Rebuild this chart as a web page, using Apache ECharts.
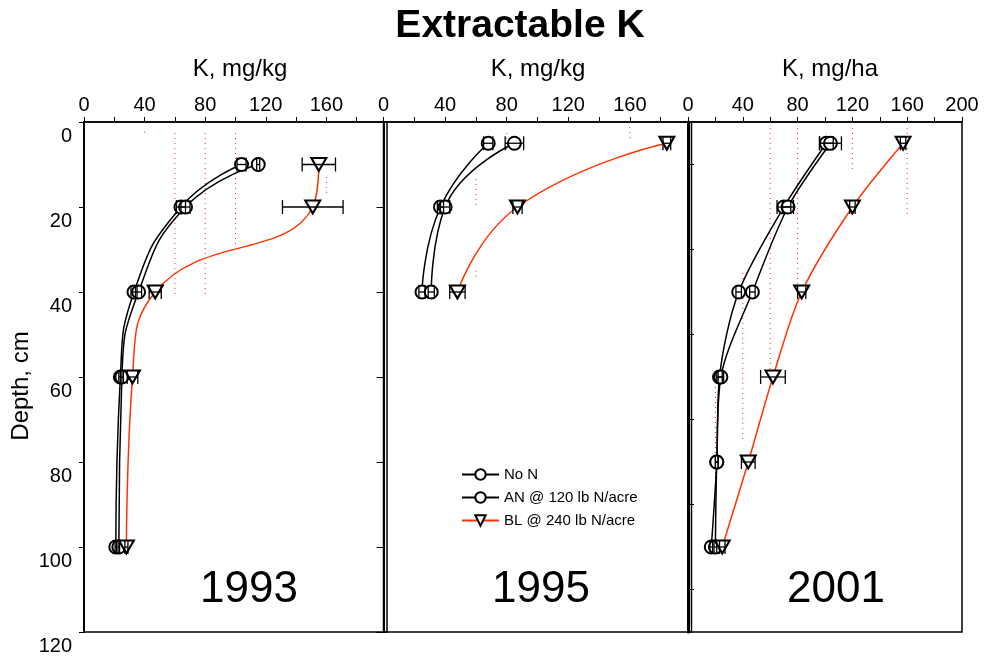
<!DOCTYPE html>
<html>
<head>
<meta charset="utf-8">
<script src="https://cdn.jsdelivr.net/npm/echarts@6/dist/echarts.min.js"></script>
<style>
html, body { margin: 0; padding: 0; background: #fff; }
#chart { width: 984px; height: 658px; }
</style>
</head>
<body>
<div id="chart"></div>
<script>
// panel texts
var years = ['1993', '1995', '2001'];
var xTitles = ['K, mg/kg', 'K, mg/kg', 'K, mg/ha'];
var seriesNames = ['No N', 'AN @ 120 lb N/acre', 'BL @ 240 lb N/acre'];

// 1993
var depth93 = [10, 20, 40, 60, 100];
var noN93 = [104, 64, 33, 24, 21];
var noNErr93 = [3, 3, 2, 1, 0.5];
var an93 = [115, 67, 36, 25, 23];
var anErr93 = [1, 3, 2, 1, 0.5];
var bl93 = [155, 151, 47, 32, 28];
var blErr93 = [11, 20, 4, 3.5, 1];

// 1995
var depth95 = [5, 20, 40];
var noN95 = [68, 37, 25];
var noNErr95 = [3, 2, 2];
var an95 = [85, 40, 31];
var anErr95 = [6, 3, 2];
var bl95 = [184, 87, 48];
var blErr95 = [2.5, 3, 5];

// 2001
var depth01 = [5, 20, 40, 60, 80, 100];
var noN01 = [101, 70, 37, 23, 21, 17];
var noNErr01 = [5, 5, 2, 2, 1, 1];
var an01 = [104, 73, 47, 24, 21, 20];
var anErr01 = [8, 4, 2, 2, 1, 1];
var bl01 = [157, 120, 83, 62, 44, 25];
var blErr01 = [2, 2, 3, 9, 5, 2];

// faint red dotted drop lines: [K value, depth from, depth to]
var dots93 = [[40, 2.3, 3.2], [60, 2.6, 40.7], [80, 2.6, 40.7], [100, 2.6, 29.4], [160, 12.9, 17.6]];
var dots95 = [[80, 2.6, 7.3], [60, 13.4, 20], [60, 35, 37], [160, 1.2, 4.2], [180, 4, 6.5]];
var dots01 = [[60, 1.4, 60], [80, 1.4, 41], [120, 1.4, 11.3], [160, 1.4, 22.6], [40, 35.5, 75], [20, 60, 101]];

var FONT = '"Liberation Sans", Arial, sans-serif';
var RED = '#ff3300';

var panels = [
  { depth: depth93, vals: [noN93, an93, bl93], errs: [noNErr93, anErr93, blErr93], dots: dots93, smooth: 0.5 },
  { depth: depth95, vals: [noN95, an95, bl95], errs: [noNErr95, anErr95, blErr95], dots: dots95, smooth: 0.5 },
  { depth: depth01, vals: [noN01, an01, bl01], errs: [noNErr01, anErr01, blErr01], dots: dots01, smooth: 0.3 }
];

var gridBox = [
  { left: 84, width: 303 },
  { left: 383.5, width: 308 },
  { left: 688, width: 274 }
];

var myChart = echarts.init(document.getElementById('chart'));

var grids = [], xAxes = [], yAxes = [], series = [];

gridBox.forEach(function (g, i) {
  grids.push({
    left: g.left, width: g.width, top: 122, height: 510,
    show: true, borderColor: '#000', borderWidth: 1.5, backgroundColor: 'transparent'
  });
  xAxes.push({
    gridIndex: i, type: 'value', position: 'top', min: 0, max: 200, interval: 20,
    axisLine: { show: true, onZero: false, lineStyle: { color: '#000', width: 1.5 } },
    axisTick: { show: true, length: 5, lineStyle: { color: '#000', width: 1 } },
    axisLabel: {
      margin: 7, fontSize: 20, color: '#000', fontFamily: FONT,
      showMaxLabel: i === 2,
      formatter: function (v) {
        if (v % 40 !== 0) return '';
        if (v === 200 && i < 2) return '';
        return v;
      }
    },
    splitLine: { show: false }
  });
  var y = {
    gridIndex: i, type: 'value', inverse: true, min: 0, max: 120, interval: 20,
    axisLine: { show: true, onZero: false, lineStyle: { color: '#000', width: i === 2 ? 3 : 2 } },
    axisTick: { show: i < 2, length: i === 0 ? 5 : 7, lineStyle: { color: '#000' } },
    axisLabel: { show: false },
    splitLine: { show: false }
  };
  if (i === 0) {
    y.axisLabel = {
      show: true, fontSize: 20, color: '#000', fontFamily: FONT, margin: 12,
      verticalAlign: 'top', padding: [4, 0, 0, 0]
    };
  }
  if (i === 2) {
    y.axisTick = { show: false, inside: true };
    y.minorTick = { show: true, splitNumber: 2, length: 6, lineStyle: { color: '#000', width: 1 } };
  }
  yAxes.push(y);
});

panels.forEach(function (p, i) {
  // dotted red drop lines
  series.push({
    type: 'custom', xAxisIndex: i, yAxisIndex: i, silent: true, z: 1,
    encode: { x: 0, y: 1 },
    data: p.dots,
    renderItem: function (params, api) {
      var a = api.coord([api.value(0), api.value(1)]);
      var b = api.coord([api.value(0), api.value(2)]);
      return {
        type: 'line',
        shape: { x1: a[0], y1: a[1], x2: b[0], y2: b[1] },
        style: { stroke: '#ff2020', lineWidth: 1, lineDash: [1, 4] }
      };
    }
  });
  for (var s = 0; s < 3; s++) {
    var isBL = s === 2;
    var vals = p.vals[s];
    var errs = p.errs[s];
    series.push({
      name: seriesNames[s], type: 'line', xAxisIndex: i, yAxisIndex: i,
      data: vals.map(function (v, k) { return [v, p.depth[k]]; }),
      smooth: p.smooth,
      symbol: isBL ? 'emptyTriangle' : 'emptyCircle',
      symbolSize: isBL ? [15, 13] : 13,
      symbolRotate: isBL ? 180 : 0,
      itemStyle: { color: '#000', borderWidth: 1.3 },
      lineStyle: { color: isBL ? RED : '#000', width: 1.5 },
      z: 3
    });
    series.push({
      type: 'custom', xAxisIndex: i, yAxisIndex: i, silent: true, z: 4,
      encode: { x: 0, y: 1 },
      data: vals.map(function (v, k) { return [v, p.depth[k], errs[k]]; }),
      renderItem: function (params, api) {
        var yy = api.coord([0, api.value(1)])[1];
        var x0 = api.coord([api.value(0) - api.value(2), 0])[0];
        var x1 = api.coord([api.value(0) + api.value(2), 0])[0];
        var st = { stroke: '#000', lineWidth: 1.3 };
        return {
          type: 'group',
          children: [
            { type: 'line', shape: { x1: x0, y1: yy, x2: x1, y2: yy }, style: st },
            { type: 'line', shape: { x1: x0, y1: yy - 7, x2: x0, y2: yy + 7 }, style: st },
            { type: 'line', shape: { x1: x1, y1: yy - 7, x2: x1, y2: yy + 7 }, style: st }
          ]
        };
      }
    });
  }
});

function txt(x, y, text, font, rot) {
  return {
    type: 'text', x: x, y: y, rotation: rot || 0, silent: true,
    style: {
      text: text, font: font, fill: '#000',
      textAlign: 'center', align: 'center',
      textVerticalAlign: 'middle', verticalAlign: 'middle'
    }
  };
}

var titleX = [240, 538, 830];
var yearX = [249, 541, 836];
var graphics = [txt(520, 26, 'Extractable K', 'bold 39px ' + FONT)];
for (var i = 0; i < 3; i++) {
  graphics.push(txt(titleX[i], 69, xTitles[i], '24px ' + FONT));
  graphics.push(txt(yearX[i], 590, years[i], '44px ' + FONT));
}
graphics.push(txt(21, 386, 'Depth, cm', '24px ' + FONT, Math.PI / 2));

option = {
  backgroundColor: '#fff',
  animation: false,
  grid: grids,
  xAxis: xAxes,
  yAxis: yAxes,
  legend: {
    data: seriesNames,
    orient: 'vertical',
    left: 456, top: 462,
    itemWidth: 37, itemHeight: 13, itemGap: 8,
    textStyle: { fontSize: 15, color: '#000', fontFamily: FONT },
    backgroundColor: 'transparent'
  },
  graphic: graphics,
  series: series
};

myChart.setOption(option);
</script>
</body>
</html>
